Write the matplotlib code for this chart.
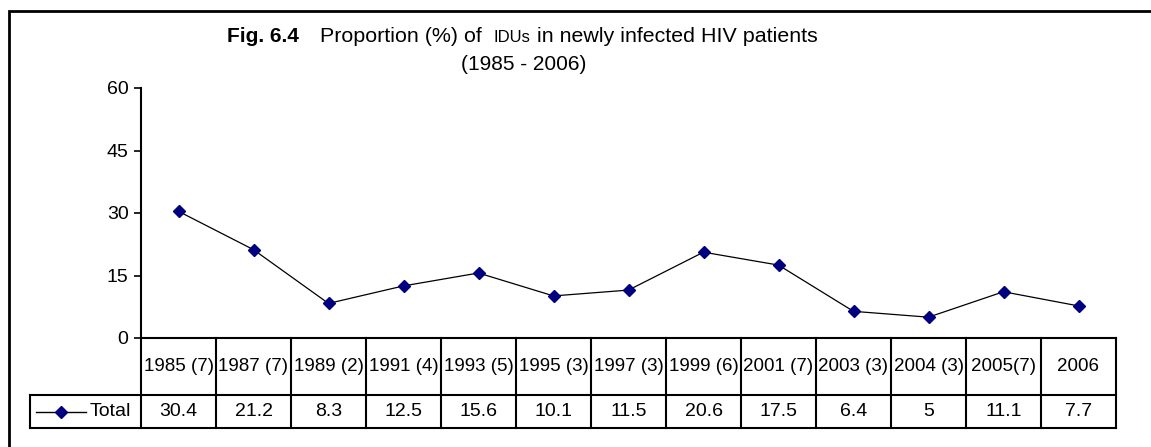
import matplotlib
matplotlib.use("Agg")
import matplotlib.pyplot as plt
from matplotlib.patches import Rectangle
from matplotlib.lines import Line2D

categories = ["1985 (7)", "1987 (7)", "1989 (2)", "1991 (4)", "1993 (5)", "1995 (3)",
              "1997 (3)", "1999 (6)", "2001 (7)", "2003 (3)", "2004 (3)", "2005(7)", "2006"]
values = [30.4, 21.2, 8.3, 12.5, 15.6, 10.1, 11.5, 20.6, 17.5, 6.4, 5, 11.1, 7.7]
value_labels = ["30.4", "21.2", "8.3", "12.5", "15.6", "10.1", "11.5", "20.6", "17.5", "6.4", "5", "11.1", "7.7"]
series_name = "Total"
yticks = [0, 15, 30, 45, 60]

plt.rcParams['font.family'] = ['Liberation Sans', 'DejaVu Sans']

W, H = 1151, 447
fig = plt.figure(figsize=(W / 100, H / 100), dpi=100)

def fx(px):
    return px / W

def fy(py):
    return 1 - py / H

# outer frame (open to the right / bottom, cropped)
fig.patches.append(Rectangle((fx(9), fy(470)), fx(1200) - fx(9), fy(11) - fy(470),
                             transform=fig.transFigure, fill=False, lw=2, ec='black'))

ax_left, ax_right, ax_top, ax_bottom = 141, 1116, 88, 338
ax = fig.add_axes([fx(ax_left), fy(ax_bottom), fx(ax_right - ax_left), (ax_bottom - ax_top) / H])
n = len(categories)
xs = list(range(n))
ax.plot(xs, values, color='black', lw=0.9, marker='D', markersize=6.5,
        markerfacecolor='#000080', markeredgecolor='#000080', zorder=3)
ax.set_xlim(-0.5, n - 0.5)
ax.set_ylim(0, 60)
ax.set_yticks(yticks)
ax.tick_params(axis='y', direction='out', length=5, width=1.2, labelsize=14, pad=4)
ax.set_xticks([])
for s in ['top', 'right']:
    ax.spines[s].set_visible(False)
ax.spines['left'].set_linewidth(1.5)
ax.spines['bottom'].set_linewidth(1.5)
ax.patch.set_alpha(0)

# table
axh = ax_bottom - ax_top
row1_b = -(395 - ax_bottom) / axh
row2_b = -(428 - ax_bottom) / axh
tr = ax.get_xaxis_transform()
col_w = (ax_right - ax_left) / n
leg_left = -0.5 - (ax_left - 30) / col_w
lw_t = 1.5
ax.add_line(Line2D([leg_left, n - 0.5], [row1_b, row1_b], transform=tr, color='black', lw=lw_t, clip_on=False))
ax.add_line(Line2D([leg_left, n - 0.5], [row2_b, row2_b], transform=tr, color='black', lw=lw_t, clip_on=False))
for k in range(n + 1):
    ax.add_line(Line2D([k - 0.5, k - 0.5], [0, row2_b], transform=tr, color='black', lw=lw_t, clip_on=False))
ax.add_line(Line2D([leg_left, leg_left], [row1_b, row2_b], transform=tr, color='black', lw=lw_t, clip_on=False))

r1c = row1_b / 2
r2c = (row1_b + row2_b) / 2
for i, (c, v) in enumerate(zip(categories, value_labels)):
    ax.text(i, r1c, c, transform=tr, ha='center', va='center', fontsize=13.5, clip_on=False)
    ax.text(i, r2c, v, transform=tr, ha='center', va='center', fontsize=14, clip_on=False)

# legend key
lx0 = -0.5 - (ax_left - 36) / col_w
lx1 = -0.5 - (ax_left - 86) / col_w
lxm = -0.5 - (ax_left - 61) / col_w
ax.add_line(Line2D([lx0, lx1], [r2c, r2c], transform=tr, color='black', lw=1.0, clip_on=False))
ax.add_line(Line2D([lxm], [r2c], transform=tr, marker='D', markersize=6.5, color='#000080', clip_on=False))
ax.text(-0.5 - (ax_left - 131) / col_w, r2c, series_name, transform=tr, ha='right', va='center',
        fontsize=14, clip_on=False)

# title
fig.canvas.draw()
rend = fig.canvas.get_renderer()
fig.text(fx(227), fy(37), "Fig. 6.4", fontsize=15, fontweight='bold', ha='left', va='center')
x = fx(320)
parts = [("Proportion (%) of  ", 15.4), ("IDUs", 12), (" in newly infected HIV patients", 15.4)]
for txt, fs in parts:
    t = fig.text(x, fy(37), txt, fontsize=fs, ha='left', va='center')
    bb = t.get_window_extent(renderer=rend)
    x = x + bb.width / W
fig.text(fx(586), fy(65), "(1985 - 2006)", fontsize=15, ha='right', va='center')

fig.savefig("out.png", dpi=100)
